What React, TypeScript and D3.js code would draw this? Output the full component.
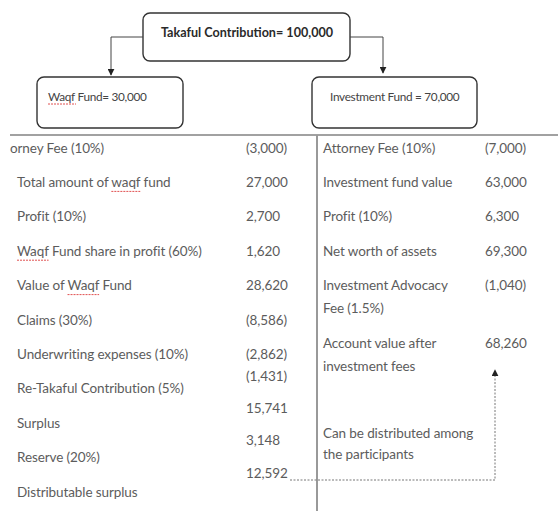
import React, { useEffect, useRef } from "react";
import * as d3 from "d3";

// flow chart content
const topLabel = "Takaful Contribution= 100,000";
const fundLabels = ["Waqf Fund= 30,000", "Investment Fund = 70,000"];

// first label is cut at the page edge in the source
const waqfLabels = [
  "orney Fee (10%)",
  "Total amount of waqf fund",
  "Profit (10%)",
  "Waqf Fund share in profit (60%)",
  "Value of Waqf Fund",
  "Claims (30%)",
  "Underwriting expenses (10%)",
  "Re-Takaful Contribution (5%)",
  "Surplus",
  "Reserve (20%)",
  "Distributable surplus",
];
const waqfValues = [
  "(3,000)", "27,000", "2,700", "1,620", "28,620", "(8,586)",
  "(2,862)", "(1,431)", "15,741", "3,148", "12,592",
];

const investLabels = [
  ["Attorney Fee (10%)"],
  ["Investment fund value"],
  ["Profit (10%)"],
  ["Net worth of assets"],
  ["Investment Advocacy", "Fee (1.5%)"],
  ["Account value after", "investment fees"],
];
const investValues = ["(7,000)", "63,000", "6,300", "69,300", "(1,040)", "68,260"];
const noteLines = ["Can be distributed among", "the participants"];

const W = 558, H = 511;
const FONT = "Lato, 'Open Sans', sans-serif";
const TXT = "#5c5c5c";

export default function App() {
  const ref = useRef<SVGSVGElement>(null);

  useEffect(() => {
    const svg = d3.select(ref.current);
    svg.selectAll("*").remove();

    const defs = svg.append("defs");
    defs.append("marker")
      .attr("id", "arr")
      .attr("viewBox", "0 0 10 10")
      .attr("refX", 9).attr("refY", 5)
      .attr("markerWidth", 7).attr("markerHeight", 7)
      .attr("markerUnits", "userSpaceOnUse")
      .attr("orient", "auto")
      .append("path").attr("d", "M0,0 L10,5 L0,10 Z").attr("fill", "#222");

    // top box
    svg.append("rect")
      .attr("x", 143).attr("y", 13).attr("width", 207).attr("height", 48)
      .attr("rx", 7).attr("fill", "#fff").attr("stroke", "#333").attr("stroke-width", 1.4);
    svg.append("text")
      .attr("x", 247).attr("y", 37).attr("text-anchor", "middle")
      .attr("font-family", FONT).attr("font-size", 12.6).attr("font-weight", "bold")
      .attr("fill", "#2a2a2a").text(topLabel);

    // connectors
    svg.append("path").attr("d", "M143,37 H111 V75").attr("fill", "none")
      .attr("stroke", "#444").attr("stroke-width", 1).attr("marker-end", "url(#arr)");
    svg.append("path").attr("d", "M350,37 H383 V73").attr("fill", "none")
      .attr("stroke", "#444").attr("stroke-width", 1).attr("marker-end", "url(#arr)");

    // fund boxes
    const boxes = [
      { x: 37, w: 146, tx: 48 },
      { x: 312, w: 165, tx: 330 },
    ];
    boxes.forEach((b, i) => {
      svg.append("rect")
        .attr("x", b.x).attr("y", 77).attr("width", b.w).attr("height", 51)
        .attr("rx", 7).attr("fill", "#fff").attr("stroke", "#333").attr("stroke-width", 1.4);
      svg.append("text")
        .attr("x", b.tx).attr("y", 101)
        .attr("font-family", FONT).attr("font-size", 11.8)
        .attr("fill", "#444").attr("letter-spacing", -0.3).text(fundLabels[i]);
    });
    // spell-check squiggle under Waqf in the box
    svg.append("line").attr("x1", 48).attr("x2", 76).attr("y1", 104).attr("y2", 104)
      .attr("stroke", "#e05050").attr("stroke-width", 1).attr("stroke-dasharray", "2,1");

    // table frame
    svg.append("line").attr("x1", 10).attr("x2", W).attr("y1", 135).attr("y2", 135)
      .attr("stroke", "#444").attr("stroke-width", 1.2);
    svg.append("line").attr("x1", 317).attr("x2", 317).attr("y1", 135).attr("y2", H)
      .attr("stroke", "#999").attr("stroke-width", 2);

    const y = d3.scaleLinear().domain([0, 10]).range([148, 492]);
    const yShift = d3.scaleLinear().domain([7, 10]).range([376, 473]);

    const txt = (x: number, yy: number, s: string) =>
      svg.append("text").attr("x", x).attr("y", yy + 4.5)
        .attr("font-family", FONT).attr("font-size", 13.5)
        .attr("fill", TXT).attr("letter-spacing", -0.1).text(s);

    // left column
    waqfLabels.forEach((l, i) => {
      const t = txt(i === 0 ? 10 : 17, y(i), l);
      if (/waqf/i.test(l)) {
        // red squiggle under "waqf"
        const node = t.node() as SVGTextElement;
        const idx = l.toLowerCase().indexOf("waqf");
        try {
          const s = node.getStartPositionOfChar(idx).x;
          const e = node.getEndPositionOfChar(idx + 3).x;
          svg.append("line").attr("x1", s).attr("x2", e)
            .attr("y1", y(i) + 9).attr("y2", y(i) + 9)
            .attr("stroke", "#e05050").attr("stroke-width", 1).attr("stroke-dasharray", "2,1");
        } catch (err) { /* ignore */ }
      }
    });
    waqfValues.forEach((v, i) => {
      txt(246, i >= 7 ? yShift(i) : y(i), v);
    });

    // right column
    let ry = y(0);
    investLabels.forEach((lines, i) => {
      txt(485, ry, investValues[i]);
      lines.forEach((l, j) => txt(323, ry + j * 23, l));
      ry += (lines.length - 1) * 23 + 34.4;
    });
    noteLines.forEach((l, j) => txt(323, 433 + j * 21, l));

    // dotted link from distributable surplus to account value
    svg.append("path").attr("d", "M290,480 H495 V370").attr("fill", "none")
      .attr("stroke", "#777").attr("stroke-width", 1).attr("stroke-dasharray", "2,1.5")
      .attr("marker-end", "url(#arr)");
  }, []);

  return (
    <svg ref={ref} width={W} height={H}
      style={{ position: "absolute", left: 0, top: 0, background: "#fff" }} />
  );
}
